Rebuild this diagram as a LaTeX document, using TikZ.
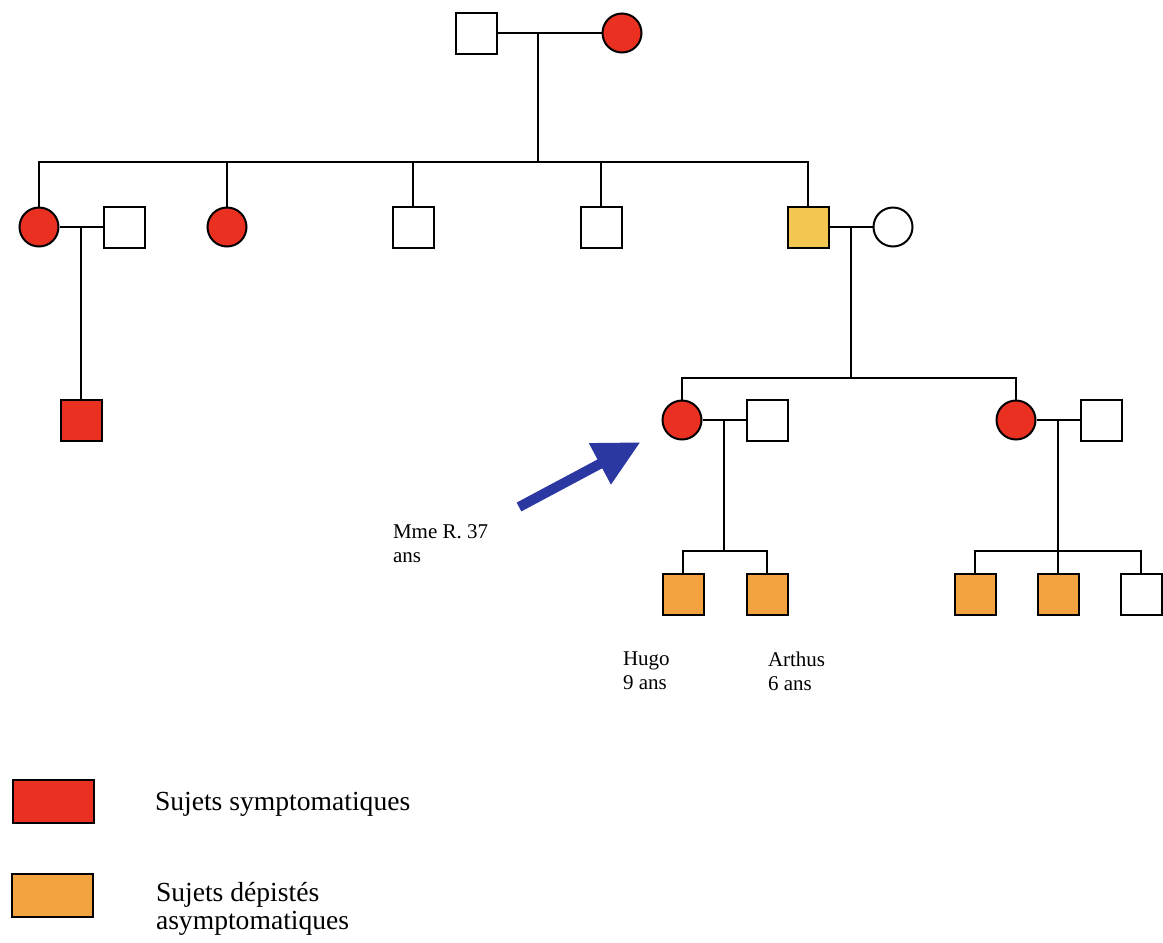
\documentclass[tikz,border=0pt]{standalone}
\usepackage{fontspec}
\setmainfont{Liberation Serif}
\usetikzlibrary{arrows.meta,positioning,calc}
\definecolor{illred}{RGB}{234,48,32}
\definecolor{screenorange}{RGB}{242,162,62}
\definecolor{carrieryellow}{RGB}{243,198,82}
\definecolor{arrowblue}{RGB}{44,56,162}

\begin{document}
\begin{tikzpicture}[x=0.5pt,y=-0.5pt,line width=1pt,node distance=21.5pt]
  \tikzstyle{male}=[rectangle,draw,minimum size=20.5pt,inner sep=0pt]
  \tikzstyle{female}=[circle,draw,minimum size=19.5pt,inner sep=0pt]
  \tikzstyle{ill}=[fill=illred]
  \tikzstyle{screened}=[fill=screenorange]
  \tikzstyle{keybox}=[rectangle,draw,minimum width=40.5pt,minimum height=21.5pt,inner sep=0pt]
  \tikzstyle{tag}=[font=\fontsize{10.5}{12}\selectfont,align=left,inner sep=0pt]
  \tikzstyle{keytext}=[font=\fontsize{13.8}{14}\selectfont,align=left,inner sep=0pt]
  \tikzstyle{pointer}=[draw=arrowblue,line width=5pt,-{Triangle[length=23pt,width=22pt]}]
  \useasboundingbox (0,0) rectangle (1163,943);

  % generation I
  \node[male] (gp) at (476,33) {};
  \node[female,ill,right=52pt of gp] (gm) {};
  \draw (gp) -- (gm);
  \coordinate (cI) at (538,33);
  \coordinate (barII) at (538,162);
  \draw (cI) -- (barII);

  % generation II
  \node[female,ill] (ii1) at (39,227) {};
  \node[male,right=of ii1] (ii1s) {};
  \node[female,ill] (ii2) at (227,227) {};
  \node[male] (ii3) at (413,227) {};
  \node[male] (ii4) at (601,227) {};
  \node[male,fill=carrieryellow] (ii5) at (808,227) {};
  \node[female,right=of ii5] (ii5s) {};
  \draw (ii1) |- (barII) -| (ii5);
  \foreach \n in {ii2,ii3,ii4}
    \draw (\n) -- (\n |- barII);
  \draw (ii1) -- (ii1s);
  \draw (ii5) -- (ii5s);

  % child of ii1
  \coordinate (cII1) at ($(ii1.east)!0.5!(ii1s.west)$);
  \node[male,ill] (iii0) at (81,420) {};
  \draw (cII1) -- (cII1 |- iii0.north);

  % generation III
  \coordinate (cII5) at ($(ii5.east)!0.5!(ii5s.west)$);
  \path (cII5) ++(0,151) coordinate (barIII);
  \draw (cII5) -- (barIII);
  \node[female,ill] (iii1) at (682,420) {};
  \node[male,right=of iii1] (iii1s) {};
  \node[female,ill] (iii2) at (1016,420) {};
  \node[male,right=of iii2] (iii2s) {};
  \draw (iii1) |- (barIII) -| (iii2);
  \draw (iii1) -- (iii1s);
  \draw (iii2) -- (iii2s);

  % generation IV
  \coordinate (cIII1) at ($(iii1.east)!0.5!(iii1s.west)$);
  \path (cIII1) ++(0,131) coordinate (barIV1);
  \draw (cIII1) -- (barIV1);
  \node[male,screened] (hugo) at (683,594) {};
  \node[male,screened] (arthus) at (767,594) {};
  \draw (hugo) |- (barIV1) -| (arthus);

  \coordinate (cIII2) at ($(iii2.east)!0.5!(iii2s.west)$);
  \path (cIII2) ++(0,131) coordinate (barIV2);
  \draw (cIII2) -- (barIV2);
  \node[male,screened] (iv3) at (975,594) {};
  \node[male,screened] (iv4) at (1058,594) {};
  \node[male] (iv5) at (1141,594) {};
  \draw (iv3) |- (barIV2) -| (iv5);
  \draw (iv4) -- (iv4 |- barIV2);

  % names
  \node[tag,anchor=north west] (hugotag) at (622,651) {Hugo\\9 ans};
  \node[tag,anchor=north west] (arthustag) at (767,651) {Arthus\\6 ans};
  \node[tag,anchor=north west] (mmetag) at (392,524) {Mme R. 37\\ans};
  \coordinate (arrowtail) at (519,507);
  \draw[pointer,shorten >=13.3pt] (arrowtail) -- (iii1);

  % legend
  \node[keybox,ill] (keyill) at (53,801) {};
  \node[keybox,screened] (keyscreen) at (52,895) {};
  \node[keytext,anchor=base west] (keyilltext) at (154,810) {Sujets symptomatiques};
  \node[keytext,anchor=north west] (keyscreentext) at (155,881) {Sujets dépistés\\asymptomatiques};
\end{tikzpicture}
\end{document}
